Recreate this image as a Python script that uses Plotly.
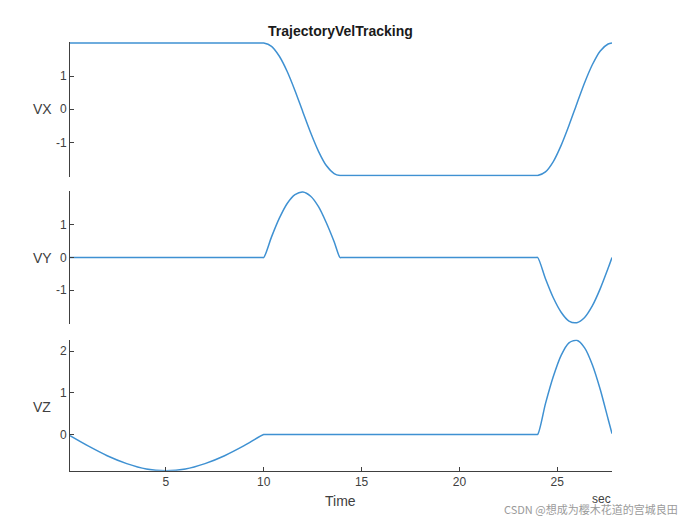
import plotly.graph_objects as go

# ---- data ----
t_vx = [0.1, 9.9, 10.0, 10.4, 10.8, 11.2, 11.6, 12.0, 12.4, 12.8, 13.2, 13.6, 13.9, 14.0,
        23.9, 24.0, 24.4, 24.8, 25.2, 25.6, 26.0, 26.4, 26.8, 27.2, 27.6, 27.8]
vx = [2.0, 2.0, 2.0, 1.90, 1.60, 1.14, 0.56, -0.08, -0.71, -1.27, -1.70, -1.94, -2.0, -2.0,
      -2.0, -2.0, -1.89, -1.58, -1.09, -0.49, 0.16, 0.80, 1.35, 1.76, 1.97, 2.0]

t_vy = t_vx
vy = [0.0, 0.0, 0.0, 0.63, 1.20, 1.65, 1.92, 2.0, 1.87, 1.55, 1.06, 0.48, 0.0, 0.0,
      0.0, 0.0, -0.65, -1.23, -1.67, -1.94, -1.99, -1.83, -1.47, -0.95, -0.33, 0.0]

t_vz = [0.1, 1.0, 2.0, 3.0, 4.0, 5.0, 6.0, 7.0, 8.0, 9.0, 10.0, 10.1,
        23.9, 24.0, 24.4, 24.8, 25.2, 25.6, 26.0, 26.4, 26.8, 27.2, 27.6, 27.8]
vz = [-0.03, -0.27, -0.51, -0.70, -0.83, -0.87, -0.83, -0.70, -0.51, -0.27, 0.0, 0.0,
      0.0, 0.0, 0.74, 1.39, 1.90, 2.20, 2.26, 2.08, 1.67, 1.08, 0.37, 0.02]

x_ticks = [5, 10, 15, 20, 25]
y_ticks_top = [-1, 0, 1]
y_ticktext_top = ["-1", "0", "1"]
y_ticks_bot = [0, 1, 2]
labels = ["VX", "VY", "VZ"]
title = "TrajectoryVelTracking"

W, H = 695, 524
LINE = "#3f91d2"
AX = "#404040"
FONT = "Liberation Sans, Arial, sans-serif"

fig = go.Figure()
for tx, ty, xa, ya in [(t_vx, vx, "x", "y"), (t_vy, vy, "x2", "y2"), (t_vz, vz, "x3", "y3")]:
    fig.add_trace(go.Scatter(x=tx, y=ty, mode="lines",
                             line=dict(color=LINE, width=1.5, shape="spline", smoothing=0.8),
                             xaxis=xa, yaxis=ya, showlegend=False))

def px_y(top, bot):
    return [(H - bot) / H, (H - top) / H]

xdom = [70 / W, 612 / W]
xrange_ = [0.1, 27.8]

common_y = dict(showline=True, linecolor=AX, linewidth=1, ticks="inside", ticklen=4,
                tickcolor=AX, showgrid=False, zeroline=False,
                tickfont=dict(size=12, color=AX, family=FONT), fixedrange=True)

hidden_x = dict(visible=False, range=xrange_, domain=xdom, showgrid=False, zeroline=False)

fig.update_layout(
    width=W, height=H, autosize=False,
    margin=dict(l=0, r=0, t=0, b=0),
    paper_bgcolor="white", plot_bgcolor="white",
    font=dict(family=FONT),
    xaxis=dict(hidden_x, anchor="y"),
    xaxis2=dict(hidden_x, anchor="y2"),
    xaxis3=dict(range=xrange_, domain=xdom, anchor="y3", showline=True, linecolor=AX,
                linewidth=1, ticks="inside", ticklen=4, tickcolor=AX, tickvals=x_ticks,
                showgrid=False, zeroline=False,
                tickfont=dict(size=12, color=AX, family=FONT)),
    yaxis=dict(common_y, domain=px_y(42, 176.5), range=[-2.03, 2.03], tickvals=y_ticks_top,
               ticktext=y_ticktext_top, anchor="x"),
    yaxis2=dict(common_y, domain=px_y(191, 324), range=[-2.03, 2.03], tickvals=y_ticks_top,
                ticktext=y_ticktext_top, anchor="x2"),
    yaxis3=dict(common_y, domain=px_y(339.5, 470.7), range=[-0.87, 2.28], tickvals=y_ticks_bot,
                anchor="x3"),
)

ann = []
ann.append(dict(text="<b>" + title + "</b>", x=340 / W, y=(H - 31) / H, xref="paper", yref="paper",
                showarrow=False, xanchor="center", yanchor="middle",
                font=dict(size=14, color="#1a1a1a", family=FONT)))
for lab, yc in zip(labels, [109, 257.5, 407]):
    ann.append(dict(text=lab, x=42 / W, y=(H - yc) / H, xref="paper", yref="paper",
                    showarrow=False, xanchor="center", yanchor="middle",
                    font=dict(size=14, color=AX, family=FONT)))
ann.append(dict(text="Time", x=340 / W, y=(H - 501) / H, xref="paper", yref="paper",
                showarrow=False, xanchor="center", yanchor="middle",
                font=dict(size=14, color=AX, family=FONT)))
ann.append(dict(text="sec", x=601 / W, y=(H - 499) / H, xref="paper", yref="paper",
                showarrow=False, xanchor="center", yanchor="middle",
                font=dict(size=12, color=AX, family=FONT)))
ann.append(dict(text="CSDN @想成为樱木花道的宫城良田", x=680 / W, y=(H - 509) / H,
                xref="paper", yref="paper", showarrow=False, xanchor="right", yanchor="middle",
                font=dict(size=11, color="#9a9a9a", family="Noto Sans CJK SC, sans-serif")))
fig.update_layout(annotations=ann)

fig.write_html("out.html")
